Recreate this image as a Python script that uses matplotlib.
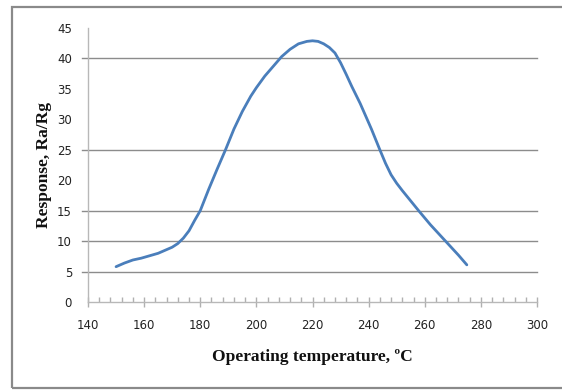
import matplotlib
matplotlib.use("Agg")
import matplotlib.pyplot as plt
from matplotlib.ticker import MultipleLocator
from matplotlib.patches import Rectangle

# Data
temperature = [150, 153, 156, 159, 162, 165, 168, 170, 172, 174, 176, 178, 180,
               183, 186, 189, 192, 195, 198, 200, 203, 206, 209, 212, 215, 218,
               220, 222, 224, 226, 228, 230, 232, 234, 237, 241, 244, 246, 248, 250,
               252, 255, 258, 262, 265, 268, 272, 275]
response = [5.8, 6.4, 6.9, 7.2, 7.6, 8.0, 8.6, 9.0, 9.6, 10.5, 11.7, 13.4, 15.0,
            18.5, 21.8, 25.0, 28.4, 31.3, 33.8, 35.2, 37.1, 38.7, 40.3, 41.5, 42.4, 42.8,
            42.9, 42.8, 42.4, 41.8, 40.9, 39.3, 37.4, 35.4, 32.6, 28.4, 25.0, 22.8, 20.9,
            19.5, 18.3, 16.6, 14.9, 12.7, 11.2, 9.7, 7.7, 6.1]
x_ticks = [140, 160, 180, 200, 220, 240, 260, 280, 300]
y_ticks = [0, 5, 10, 15, 20, 25, 30, 35, 40, 45]
grid_values = [5, 10, 15, 25, 40]

W, H = 562, 390
fig = plt.figure(figsize=(W / 100, H / 100), dpi=100)
ax = fig.add_axes([88 / W, 1 - 302 / H, (537 - 88) / W, (302 - 28) / H])

# outer chart border
fig.patches.append(Rectangle((12 / W, 2 / H), 1.0, (388 - 7) / H,
                             transform=fig.transFigure, fill=False,
                             edgecolor="#8a8a8a", linewidth=1.6))

ax.plot(temperature, response, color="#4a7ebb", linewidth=2.0,
        solid_capstyle="round", solid_joinstyle="round", zorder=3)

for g in grid_values:
    ax.axhline(g, xmin=-0.0134, xmax=1.0, color="#8c8c8c", linewidth=1.0,
               clip_on=False, zorder=1)

ax.set_xlim(140, 300)
ax.set_ylim(0, 45)
ax.set_xticks(x_ticks)
ax.set_yticks(y_ticks)
ax.xaxis.set_minor_locator(MultipleLocator(4))

for s in ["top", "right"]:
    ax.spines[s].set_visible(False)
for s in ["left", "bottom"]:
    ax.spines[s].set_color("#b8b8b8")
    ax.spines[s].set_linewidth(1.0)

ax.tick_params(axis="x", which="major", direction="inout", length=7,
               width=1.0, color="#b0b0b0", pad=9, labelsize=8.5, labelcolor="#222222")
ax.tick_params(axis="x", which="minor", direction="in", length=3.5,
               width=1.0, color="#b0b0b0")
ax.tick_params(axis="y", which="major", length=0, pad=11.5, labelsize=8.5,
               labelcolor="#222222")
for lab in ax.get_xticklabels() + ax.get_yticklabels():
    lab.set_family("DejaVu Sans")

ax.set_xlabel("Operating temperature, ºC", family="Liberation Serif",
              fontweight="bold", fontsize=12.5, labelpad=12, color="#111111")
ax.set_ylabel("Response, Ra/Rg", family="Liberation Serif",
              fontweight="bold", fontsize=12.5, color="#111111")
ax.yaxis.set_label_coords((52 - 88) / (537 - 88), 0.5)

fig.savefig("out.png", dpi=100)
